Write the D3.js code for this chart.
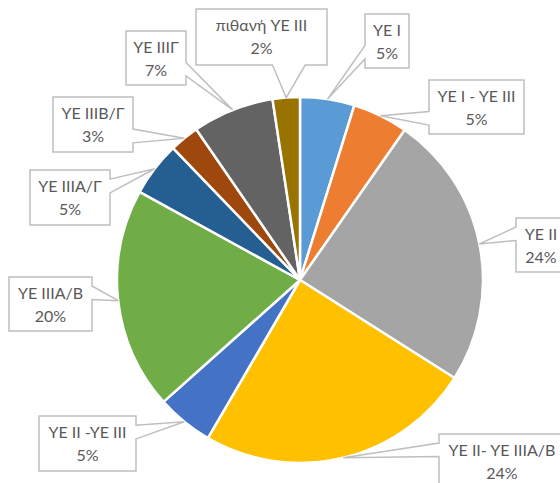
<!DOCTYPE html>
<html>
<head>
<meta charset="utf-8">
<script src="https://cdn.jsdelivr.net/npm/d3@7"></script>
<style>
  html, body { margin: 0; padding: 0; background: #fff; }
  svg { display: block; }
</style>
</head>
<body>
<div id="chart"></div>
<script>
// categories and shares (percent), clockwise from 12 o'clock
const categories = [
  'YE I', 'YE I - YE III', 'YE II', 'YE II- YE IIIA/B', 'YE II -YE III',
  'YE IIIA/B', 'YE IIIA/Γ', 'YE IIIB/Γ', 'YE IIIΓ', 'πιθανή YE III'
];
const shares = [4.8, 4.9, 24.3, 24.4, 5.0, 19.6, 4.8, 2.6, 7.2, 2.4];
const colors = [
  '#5B9BD5', '#ED7D31', '#A5A5A5', '#FFC000', '#4472C4',
  '#70AD47', '#255E91', '#9E480E', '#636363', '#997300'
];

// callout boxes [left, top, width, height], placed by hand like in the original
const boxes = [
  [365, 14, 44, 54],
  [429, 80, 95, 54],
  [516, 218, 50, 54],
  [439, 434, 126, 54],
  [39, 416, 97, 55],
  [9, 277, 83, 54],
  [30, 170, 80, 55],
  [53, 97, 80, 55],
  [126, 31, 60, 54],
  [196, 9, 131, 56]
];

const width = 560, height = 483;
const cx = 300, cy = 280, radius = 183;

const svg = d3.select('#chart').append('svg')
  .attr('width', width)
  .attr('height', height);

const data = categories.map((c, i) => ({ name: c, value: shares[i], color: colors[i], box: boxes[i] }));
const total = d3.sum(shares);
const fmt = d3.format('.0%');

const pie = d3.pie().sort(null).value(d => d.value);
const arcs = pie(data);

const arc = d3.arc().innerRadius(0).outerRadius(radius);
const edge = d3.arc().innerRadius(radius).outerRadius(radius);

const g = svg.append('g').attr('transform', `translate(${cx},${cy})`);

g.selectAll('path.slice')
  .data(arcs)
  .join('path')
  .attr('class', 'slice')
  .attr('d', arc)
  .attr('fill', d => d.data.color)
  .attr('stroke', '#fff')
  .attr('stroke-width', 2.5)
  .attr('stroke-linejoin', 'round');

// excel-style wedgeRectCallout outline
const callout = (l, t, w, h, px, py) => {
  const r = l + w, b = t + h;
  const dx = px - (l + w / 2), dy = py - (t + h / 2);
  const dq = dx * h / w;
  if (Math.abs(dy) > Math.abs(dq)) {
    const x1 = l + w * (dx > 0 ? 7 : 2) / 12;
    const x2 = l + w * (dx > 0 ? 10 : 5) / 12;
    if (dy < 0) return `M${l},${t}L${x1},${t}L${px},${py}L${x2},${t}L${r},${t}L${r},${b}L${l},${b}Z`;
    return `M${l},${t}L${r},${t}L${r},${b}L${x2},${b}L${px},${py}L${x1},${b}L${l},${b}Z`;
  }
  const y1 = t + h * (dy > 0 ? 7 : 2) / 12;
  const y2 = t + h * (dy > 0 ? 10 : 5) / 12;
  if (dx < 0) return `M${l},${t}L${r},${t}L${r},${b}L${l},${b}L${l},${y2}L${px},${py}L${l},${y1}Z`;
  return `M${l},${t}L${r},${t}L${r},${y1}L${px},${py}L${r},${y2}L${r},${b}L${l},${b}Z`;
};

const labels = svg.append('g')
  .selectAll('g.label')
  .data(arcs)
  .join('g')
  .attr('class', 'label');

labels.append('path')
  .attr('d', d => {
    const [l, t, w, h] = d.data.box;
    const c = edge.centroid(d);
    return callout(l, t, w, h, cx + c[0], cy + c[1]);
  })
  .attr('fill', '#fff')
  .attr('stroke', '#BFBFBF')
  .attr('stroke-width', 1.5);

const text = labels.append('text')
  .attr('font-family', 'Lato, "Open Sans", sans-serif')
  .attr('font-size', 16)
  .attr('fill', '#595959')
  .attr('text-anchor', 'middle');

text.append('tspan')
  .attr('x', d => d.data.box[0] + d.data.box[2] / 2)
  .attr('y', d => d.data.box[1] + 22)
  .text(d => d.data.name);

text.append('tspan')
  .attr('x', d => d.data.box[0] + d.data.box[2] / 2)
  .attr('y', d => d.data.box[1] + 45)
  .text(d => fmt(d.data.value / total));
</script>
</body>
</html>
